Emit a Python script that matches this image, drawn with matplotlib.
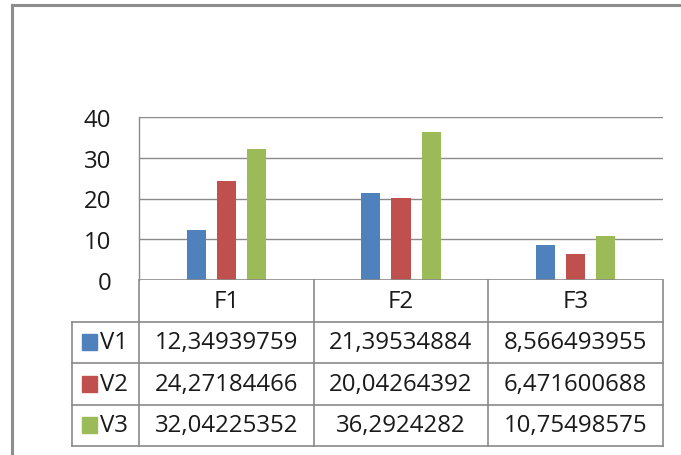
import matplotlib
matplotlib.use("Agg")
import matplotlib.pyplot as plt
from matplotlib.lines import Line2D
from matplotlib.patches import Rectangle
import numpy as np

categories = ["F1", "F2", "F3"]
series_names = ["V1", "V2", "V3"]
v1 = [12.34939759, 21.39534884, 8.566493955]
v2 = [24.27184466, 20.04264392, 6.471600688]
v3 = [32.04225352, 36.2924282, 10.75498575]
v1_text = ["12,34939759", "21,39534884", "8,566493955"]
v2_text = ["24,27184466", "20,04264392", "6,471600688"]
v3_text = ["32,04225352", "36,2924282", "10,75498575"]
y_ticks = [0, 10, 20, 30, 40]

colors = ["#4F81BD", "#C0504D", "#9BBB59"]
grid_col = "#8a8a8a"
font = "Open Sans"
fs = 17.3

W, H = 681, 456
fig = plt.figure(figsize=(W / 100, H / 100), dpi=100)
fig.patch.set_facecolor("white")


def fx(px):
    return px / W


def fy(py):
    return 1 - py / H


# outer chart border (left and top visible)
fig.add_artist(Line2D([fx(12), fx(12)], [fy(6), fy(456)], color="#8c8c8c", lw=2.2,
                      transform=fig.transFigure))
fig.add_artist(Line2D([fx(12), fx(681)], [fy(6), fy(6)], color="#8c8c8c", lw=2.2,
                      transform=fig.transFigure))

# bar plot area
left, right, top, bottom = 139, 663, 118, 281
ax = fig.add_axes([fx(left), fy(bottom), fx(right - left), (bottom - top) / H])
x = np.arange(len(categories))
width = 0.109
step = 0.172
for i, vals in enumerate([v1, v2, v3]):
    ax.bar(x + (i - 1) * step, vals, width, color=colors[i], zorder=3)
ax.set_xlim(-0.5, 2.5)
ax.set_ylim(0, 40)
ax.set_yticks(y_ticks)
ax.set_yticklabels([str(t) for t in y_ticks], fontsize=fs, family=font, color="#1a1a1a")
ax.tick_params(axis="y", length=0, pad=20)
ax.set_xticks([])
for t in y_ticks[1:]:
    ax.axhline(t, color=grid_col, lw=1, zorder=1)
for s in ["top", "right", "bottom"]:
    ax.spines[s].set_visible(False)
ax.spines["left"].set_color(grid_col)
ax.spines["left"].set_linewidth(1)
ax.axhline(0, color=grid_col, lw=1.2, zorder=4)
ax.patch.set_alpha(0)

# data table
t_left, t_right, t_top, t_bottom = 72, 663, 281, 447
col_px = (right - left) / 3
lab_w = (left - t_left) / col_px
tax = fig.add_axes([fx(t_left), fy(t_bottom), fx(t_right - t_left), (t_bottom - t_top) / H])
tax.set_xlim(-0.5 - lab_w, 2.5)
tax.set_ylim(4, 0)
tax.axis("off")

lk = dict(color=grid_col, lw=1.2, clip_on=False)
for xv in [-0.5, 0.5, 1.5, 2.5]:
    tax.plot([xv, xv], [0, 4], **lk)
tax.plot([-0.5 - lab_w, -0.5 - lab_w], [1, 4], **lk)
for yv in [1, 2, 3, 4]:
    tax.plot([-0.5 - lab_w, 2.5], [yv, yv], **lk)

for j, c in enumerate(categories):
    tax.text(j, 0.5, c, ha="center", va="center", fontsize=fs, family=font, color="#1a1a1a")

rows = [v1_text, v2_text, v3_text]
sq_w = 15 / col_px
for i, name in enumerate(series_names):
    yc = i + 1.5
    x0 = -0.5 - lab_w + 10 / col_px
    tax.add_patch(Rectangle((x0, yc - 0.19), sq_w, 0.38, color=colors[i], clip_on=False))
    tax.text(x0 + sq_w + 0.015, yc, name, ha="left", va="center", fontsize=fs,
             family=font, color="#1a1a1a")
    for j, txt in enumerate(rows[i]):
        tax.text(j, yc, txt, ha="center", va="center", fontsize=fs, family=font,
                 color="#1a1a1a")

fig.savefig("out.png", dpi=100)
